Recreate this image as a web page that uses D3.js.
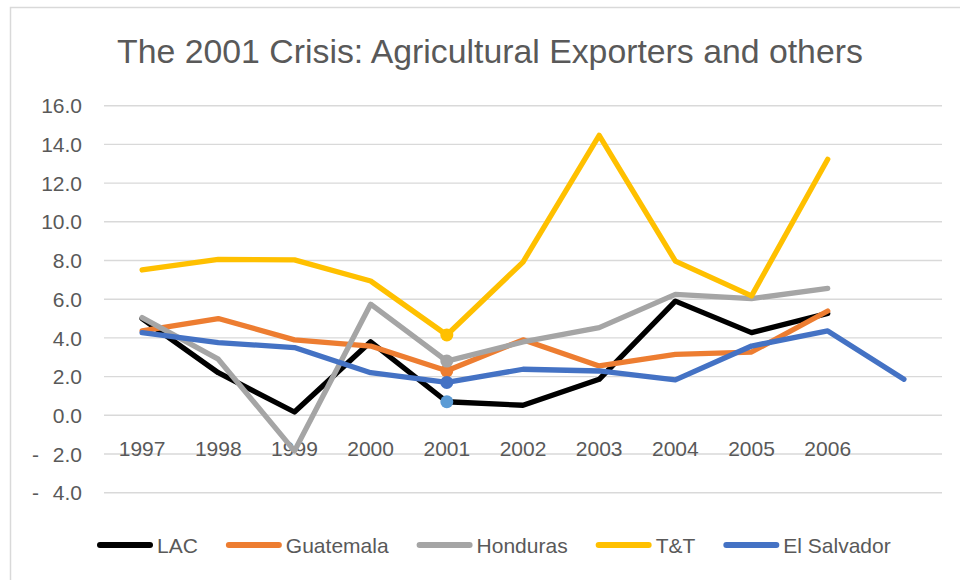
<!DOCTYPE html>
<html>
<head>
<meta charset="utf-8">
<script src="https://cdn.jsdelivr.net/npm/d3@7"></script>
<style>
  body { margin: 0; background: #fff; }
  svg { display: block; font-family: "Liberation Sans", Arial, sans-serif; }
</style>
</head>
<body>
<svg id="chart" width="960" height="580"></svg>
<script>
// years along the x axis; last slot has no label (El Salvador runs one step further)
var years = ['1997', '1998', '1999', '2000', '2001', '2002', '2003', '2004', '2005', '2006', ''];
var yTicks = [16, 14, 12, 10, 8, 6, 4, 2, 0, -2, -4];

var lac        = [5.0, 2.2, 0.17, 3.8, 0.7, 0.52, 1.86, 5.9, 4.27, 5.27, null];
var guatemala  = [4.36, 5.0, 3.9, 3.58, 2.3, 3.9, 2.55, 3.15, 3.27, 5.39, null];
var honduras   = [5.05, 2.9, -1.84, 5.74, 2.8, 3.79, 4.53, 6.25, 6.03, 6.56, null];
var tt         = [7.51, 8.06, 8.03, 6.94, 4.15, 7.92, 14.47, 7.97, 6.17, 13.23, null];
var elSalvador = [4.27, 3.76, 3.5, 2.2, 1.7, 2.38, 2.29, 1.83, 3.58, 4.36, 1.86];

var series = [
  { name: 'LAC', values: lac, color: '#000000', marker: '#5B9BD5' },
  { name: 'Guatemala', values: guatemala, color: '#ED7D31', marker: '#ED7D31' },
  { name: 'Honduras', values: honduras, color: '#A5A5A5', marker: '#A5A5A5' },
  { name: 'T&T', values: tt, color: '#FFC000', marker: '#FFC000' },
  { name: 'El Salvador', values: elSalvador, color: '#4472C4', marker: '#4472C4' }
];
var crisisYear = '2001';

var svg = d3.select('#chart');
var textColor = '#595959';
var gridColor = '#D9D9D9';

var x = d3.scalePoint().domain(years).range([104, 942]).padding(0.5);
var y = d3.scaleLinear().domain([-4, 16]).range([492.7, 105.7]);

// chart border (only top and left edges are visible in the frame)
svg.append('rect')
  .attr('x', 10.5).attr('y', 7.5)
  .attr('width', 1000).attr('height', 1000)
  .attr('fill', 'none')
  .attr('stroke', gridColor)
  .attr('stroke-width', 1.5);

// title
svg.append('text')
  .attr('x', 490).attr('y', 63)
  .attr('text-anchor', 'middle')
  .attr('font-size', 33.8)
  .attr('fill', textColor)
  .text('The 2001 Crisis: Agricultural Exporters and others');

// gridlines
svg.append('g').selectAll('line')
  .data(yTicks)
  .enter().append('line')
  .attr('x1', 104).attr('x2', 942)
  .attr('y1', function(d) { return y(d); })
  .attr('y2', function(d) { return y(d); })
  .attr('stroke', gridColor)
  .attr('stroke-width', 1.4);

// y labels, accounting style: minus sign sits apart from the number
var yLab = svg.append('g').attr('font-size', 21).attr('fill', textColor);
yLab.selectAll('text.num')
  .data(yTicks)
  .enter().append('text')
  .attr('class', 'num')
  .attr('x', 82)
  .attr('y', function(d) { return y(d) + 7.6; })
  .attr('text-anchor', 'end')
  .text(function(d) { return d3.format('.1f')(Math.abs(d)); });
yLab.selectAll('text.neg')
  .data(yTicks.filter(function(d) { return d < 0; }))
  .enter().append('text')
  .attr('class', 'neg')
  .attr('x', 32)
  .attr('y', function(d) { return y(d) + 7.6; })
  .text('-');

// year labels sit just under the zero line
svg.append('g').attr('font-size', 21).attr('fill', textColor)
  .selectAll('text')
  .data(years)
  .enter().append('text')
  .attr('x', function(d) { return x(d); })
  .attr('y', 456)
  .attr('text-anchor', 'middle')
  .text(function(d) { return d; });

// lines
var line = d3.line()
  .defined(function(d) { return d != null; })
  .x(function(d, i) { return x(years[i]); })
  .y(function(d) { return y(d); });

svg.append('g').selectAll('path')
  .data(series)
  .enter().append('path')
  .attr('d', function(s) { return line(s.values); })
  .attr('fill', 'none')
  .attr('stroke', function(s) { return s.color; })
  .attr('stroke-width', 5.3)
  .attr('stroke-linejoin', 'round')
  .attr('stroke-linecap', 'round');

// markers on the crisis year
var ci = years.indexOf(crisisYear);
svg.append('g').selectAll('circle')
  .data(series)
  .enter().append('circle')
  .attr('cx', x(crisisYear))
  .attr('cy', function(s) { return y(s.values[ci]); })
  .attr('r', 6.5)
  .attr('fill', function(s) { return s.marker; });

// legend
var legend = svg.append('g').attr('font-size', 21).attr('fill', textColor);
var lx = 97;
series.forEach(function(s) {
  legend.append('line')
    .attr('x1', lx + 3).attr('x2', lx + 53)
    .attr('y1', 545).attr('y2', 545)
    .attr('stroke', s.color)
    .attr('stroke-width', 6)
    .attr('stroke-linecap', 'round');
  var t = legend.append('text')
    .attr('x', lx + 60).attr('y', 552.5)
    .text(s.name);
  lx += 60 + t.node().getComputedTextLength() + 28;
});
</script>
</body>
</html>
